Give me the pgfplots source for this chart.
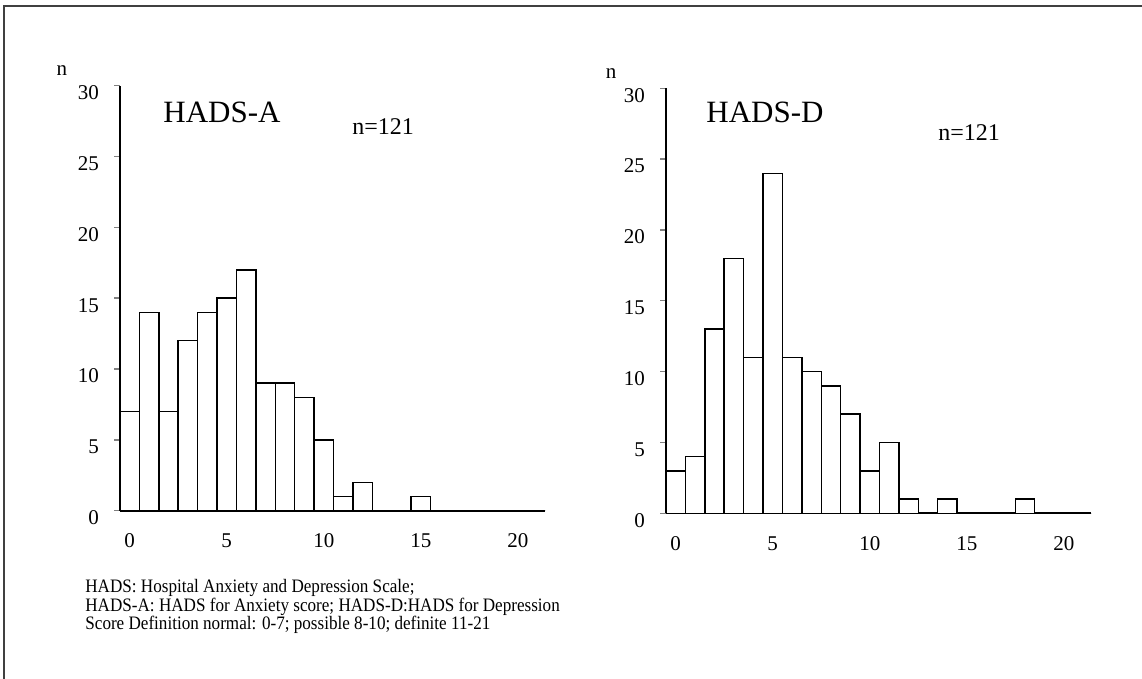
\documentclass[border=0pt]{standalone}
\usepackage{fontspec}
\setmainfont{Liberation Serif}
\newfontfamily\capfont[FakeStretch=0.9]{Liberation Serif}
\usepackage{pgfplots}
\pgfplotsset{compat=1.18}

% frequency of each score, 0..21
\pgfplotstableread{
score anx dep
0  7  3
1  14 4
2  7  13
3  12 18
4  14 11
5  15 24
6  17 11
7  9  10
8  9  9
9  8  7
10 5  3
11 1  5
12 2  1
13 0  0
14 0  1
15 1  0
16 0  0
17 0  0
18 0  1
19 0  0
20 0  0
21 0  0
}\hads

\pgfplotsset{hist/.style={
    scale only axis, width=212.5pt, height=212.5pt,
    xmin=-0.5, xmax=21.4, ymin=0, ymax=30,
    axis lines=left, axis line style={-, line width=1pt},
    xtick={0,5,10,15,20}, ytick={0,5,...,30},
    xtick style={draw=none},
    ytick style={line width=0.7pt},
    tick align=outside, major tick length=3pt,
    tick label style={font=\fontsize{10.5}{12}\selectfont},
    /pgf/number format/assume math mode=true,
    x tick label style={yshift=-5pt},
    y tick label style={xshift=-4pt, yshift=-3.5pt},
    ybar, bar width=1,
  }}

\begin{document}
\begin{tikzpicture}
\useasboundingbox (0,0) rectangle (571pt,339.5pt);
\draw[line width=0.7pt, black!75] (2pt,0) -- (2pt,336.5pt) -- (571pt,336.5pt);

\begin{axis}[hist, at={(60pt,84.15pt)}, anchor=south west]
\addplot[fill=white, draw=black, line width=0.75pt] table[x=score, y=anx] {\hads};
\end{axis}

\begin{axis}[hist, at={(333pt,82.85pt)}, anchor=south west]
\addplot[fill=white, draw=black, line width=0.75pt] table[x=score, y=dep] {\hads};
\end{axis}

\node[font=\fontsize{10.5}{12}\selectfont] at (31pt,304pt) {n};
\node[font=\fontsize{10.5}{12}\selectfont] at (305.5pt,302.5pt) {n};
\node[anchor=west, inner sep=0, font=\fontsize{15.5}{18}\selectfont] at (81.5pt,283.5pt) {HADS-A};
\node[anchor=west, inner sep=0, font=\fontsize{12}{14}\selectfont] at (176pt,276pt) {n=121};
\node[anchor=west, inner sep=0, font=\fontsize{15.5}{18}\selectfont] at (353pt,283.5pt) {HADS-D};
\node[anchor=west, inner sep=0, font=\fontsize{12}{14}\selectfont] at (469pt,273pt) {n=121};

\node[anchor=north west, inner sep=0, align=left, font=\capfont\fontsize{9.5}{9.25}\selectfont] at (42.5pt,50pt)
  {HADS: Hospital Anxiety and Depression Scale;\\
   HADS-A: HADS for Anxiety score; HADS-D:HADS for Depression\\
   Score Definition normal: 0-7; possible 8-10; definite 11-21};
\end{tikzpicture}
\end{document}
